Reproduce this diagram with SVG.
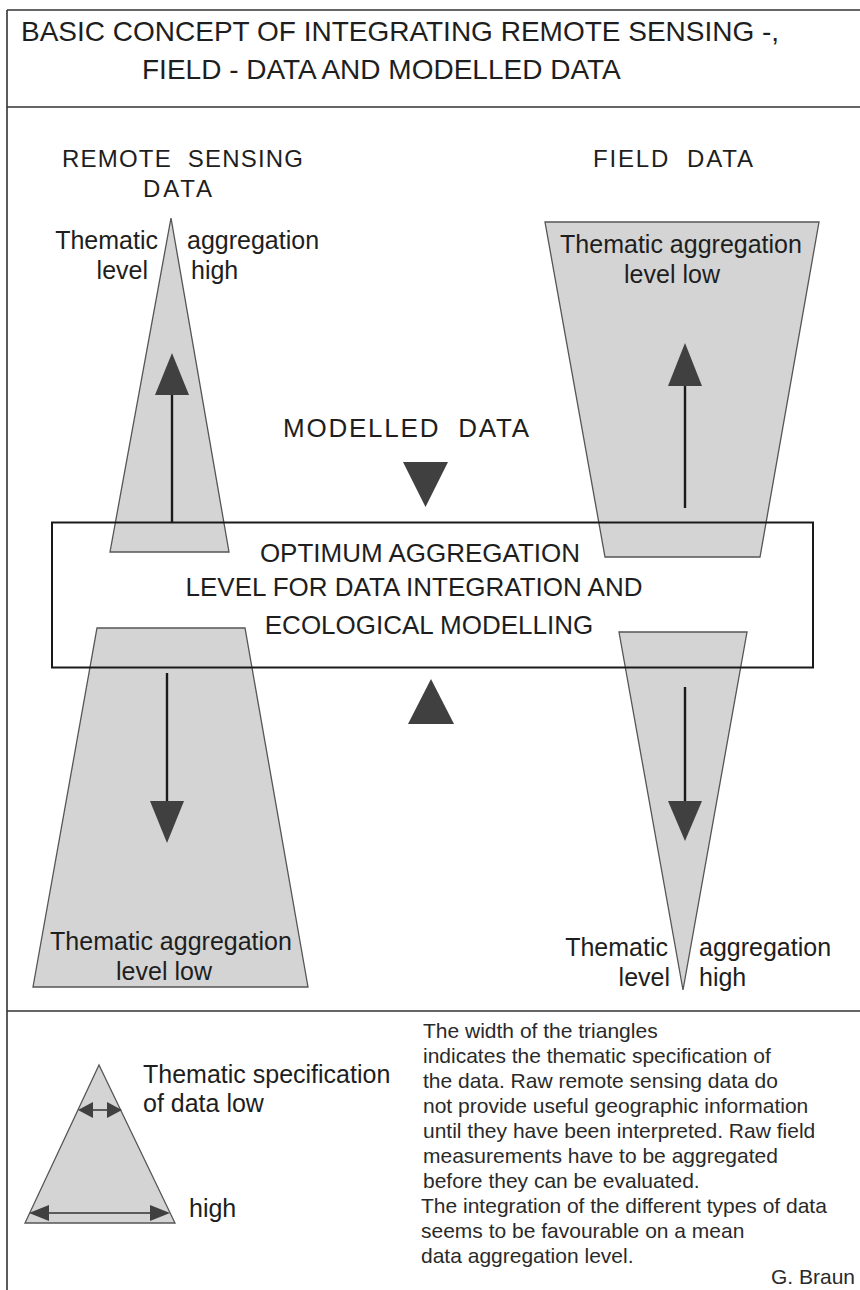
<svg xmlns="http://www.w3.org/2000/svg" width="860" height="1290" viewBox="0 0 860 1290">
<style>
text{font-family:"Liberation Sans",Arial,sans-serif;fill:#1e1e1e}
.frame{fill:none;stroke:#333;stroke-width:1.6}
.shape{fill:#d4d4d4;stroke:#555;stroke-width:1.3}
.shaft{stroke:#1a1a1a;stroke-width:2.4;fill:none}
.head{fill:#404040;stroke:none}
.big{font-size:28px}
.hdr{font-size:24px}
.lbl{font-size:25px}
.box{font-size:26px}
.note{font-size:21px;fill:#2a2a2a}
</style>
<rect width="860" height="1290" fill="#fff"/>
<g id="frame">
<line class="frame" x1="7" y1="10" x2="860" y2="10"/>
<line class="frame" x1="7" y1="10" x2="7" y2="1290"/>
<line class="frame" x1="7" y1="107" x2="860" y2="107"/>
<line class="frame" x1="7" y1="1011" x2="860" y2="1011"/>
</g>
<g id="title">
<text class="big" x="21" y="41">BASIC CONCEPT OF INTEGRATING REMOTE SENSING -,</text>
<text class="big" x="142" y="79">FIELD - DATA AND MODELLED DATA</text>
</g>
<g id="rs-header">
<text class="hdr" x="62" y="167" textLength="241" xml:space="preserve">REMOTE  SENSING</text>
<text class="hdr" x="143" y="197" textLength="69">DATA</text>
</g>
<g id="field-header">
<text class="hdr" x="593" y="167" textLength="160" xml:space="preserve">FIELD  DATA</text>
</g>
<g id="rs-high">
<polygon class="shape" points="171,218 229,552 110,552"/>
<text class="lbl" x="158" y="249" text-anchor="end">Thematic</text>
<text class="lbl" x="148" y="279" text-anchor="end">level</text>
<text class="lbl" x="187" y="249">aggregation</text>
<text class="lbl" x="191" y="279">high</text>
</g>
<g id="field-low">
<polygon class="shape" points="545,222 819,222 760,557 605,557"/>
<text class="lbl" x="681" y="253" text-anchor="middle">Thematic aggregation</text>
<text class="lbl" x="672" y="283" text-anchor="middle">level low</text>
</g>
<g id="rs-low">
<polygon class="shape" points="97,628 245,628 308,987 33,987"/>
<text class="lbl" x="171" y="950" text-anchor="middle">Thematic aggregation</text>
<text class="lbl" x="164" y="980" text-anchor="middle">level low</text>
</g>
<g id="field-high">
<polygon class="shape" points="619,632 747,632 683,990"/>
<text class="lbl" x="668" y="956" text-anchor="end">Thematic</text>
<text class="lbl" x="670" y="986" text-anchor="end">level</text>
<text class="lbl" x="699" y="956">aggregation</text>
<text class="lbl" x="699" y="986">high</text>
</g>
<g id="modelled">
<text class="box" x="283" y="437" textLength="246" xml:space="preserve">MODELLED  DATA</text>
<polygon class="head" points="403,462 448,462 425.5,507"/>
<polygon class="head" points="408,724 454,724 431,679"/>
</g>
<g id="connectors">
<line class="shaft" x1="172" y1="522" x2="172" y2="392"/>
<polygon class="head" points="172,353 189,395 155,395"/>
<line class="shaft" x1="685" y1="508" x2="685" y2="383"/>
<polygon class="head" points="685,343 702,386 668,386"/>
<line class="shaft" x1="167" y1="673" x2="167" y2="804"/>
<polygon class="head" points="167,843 150,801 184,801"/>
<line class="shaft" x1="685" y1="687" x2="685" y2="804"/>
<polygon class="head" points="685,841 668,801 702,801"/>
</g>
<g id="optimum">
<rect x="52" y="522.5" width="761" height="145" fill="none" stroke="#1a1a1a" stroke-width="2"/>
<text class="box" x="420" y="562" text-anchor="middle">OPTIMUM AGGREGATION</text>
<text class="box" x="414" y="596" text-anchor="middle">LEVEL FOR DATA INTEGRATION AND</text>
<text class="box" x="429" y="634" text-anchor="middle">ECOLOGICAL MODELLING</text>
</g>
<g id="legend">
<polygon class="shape" points="99,1065 175,1223 25,1223"/>
<line x1="88" y1="1110" x2="112" y2="1110" stroke="#333" stroke-width="1.5"/>
<polygon class="head" points="78,1110 93,1102 93,1118"/>
<polygon class="head" points="122,1110 107,1102 107,1118"/>
<line x1="45" y1="1213" x2="155" y2="1213" stroke="#333" stroke-width="1.5"/>
<polygon class="head" points="29,1213 49,1205 49,1221"/>
<polygon class="head" points="170,1213 150,1205 150,1221"/>
<text class="lbl" x="143" y="1083">Thematic specification</text>
<text class="lbl" x="143" y="1112">of data low</text>
<text class="lbl" x="189" y="1217">high</text>
</g>
<g id="explanation">
<text class="note" x="423" y="1038">The width of the triangles</text>
<text class="note" x="423" y="1063">indicates the thematic specification of</text>
<text class="note" x="423" y="1088">the data. Raw remote sensing data do</text>
<text class="note" x="423" y="1113">not provide useful geographic information</text>
<text class="note" x="423" y="1138">until they have been interpreted. Raw field</text>
<text class="note" x="423" y="1163">measurements have to be aggregated</text>
<text class="note" x="423" y="1188">before they can be evaluated.</text>
<text class="note" x="421" y="1213">The integration of the different types of data</text>
<text class="note" x="421" y="1238">seems to be favourable on a mean</text>
<text class="note" x="421" y="1263">data aggregation level.</text>
</g>
<g id="author">
<text class="note" x="855" y="1284" text-anchor="end">G. Braun</text>
</g>
</svg>
